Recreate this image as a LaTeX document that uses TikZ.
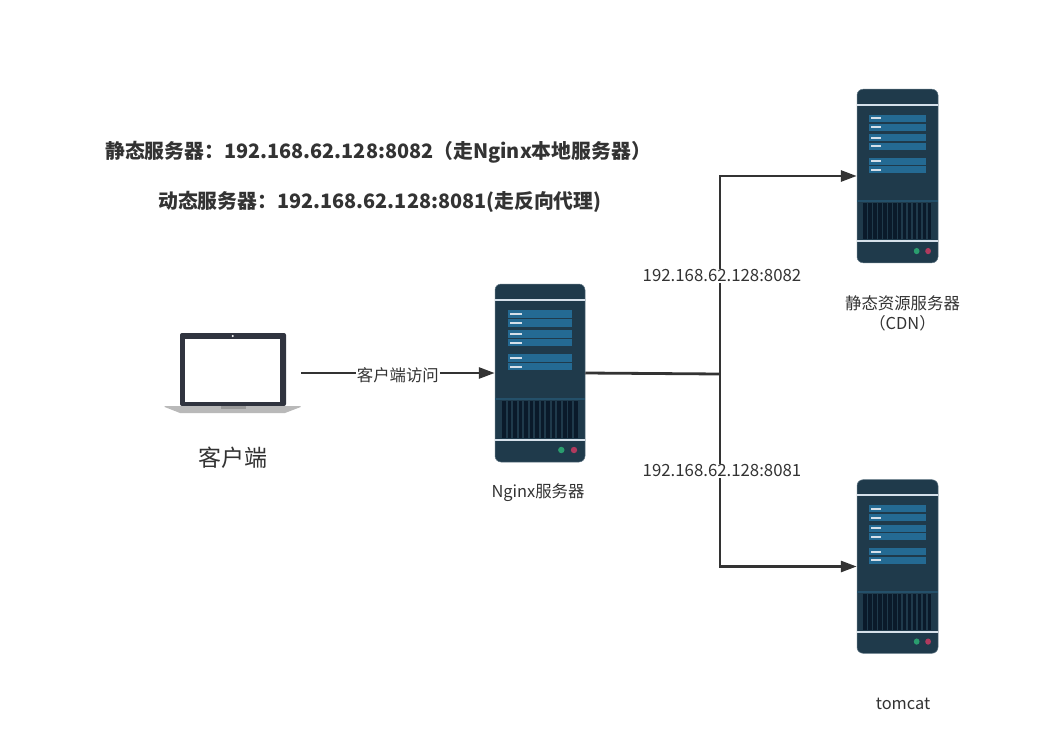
\documentclass[tikz,border=0pt]{standalone}
\usepackage{fontspec}
\setmainfont{Noto Sans CJK SC}
\usetikzlibrary{arrows.meta}
\definecolor{inkgray}{HTML}{333333}
\definecolor{serverbody}{HTML}{1F3A4B}
\definecolor{serveredge}{HTML}{5F7583}
\definecolor{serverbar}{HTML}{246A93}
\definecolor{serverband}{HTML}{24506A}
\definecolor{serverline}{HTML}{D5E0EA}
\definecolor{serverslat}{HTML}{0A1A2A}
\definecolor{lampgreen}{HTML}{2A9D6E}
\definecolor{lampred}{HTML}{B03A5E}
\definecolor{laptopdark}{HTML}{30343F}
\definecolor{laptopbase}{HTML}{B9B9B9}
\definecolor{laptopnotch}{HTML}{999999}
\tikzset{
    link/.style={draw=inkgray, line width=2.8pt},
    arrowlink/.style={link, -{Triangle[length=16pt,width=11pt]}},
    iplabel/.style={fill=white, inner sep=1pt, text=inkgray, font=\fontsize{16.8}{18}\selectfont},
    visitlabel/.style={fill=white, inner sep=1pt, text=inkgray, font=\fontsize{16.4}{18}\selectfont},
    caption/.style={text=inkgray, align=center, font=\fontsize{16.4}{20}\selectfont},
    headline/.style={anchor=west, inner sep=0pt, text=inkgray, font=\fontsize{19.85}{24}\selectfont\bfseries},
    serverbox/.pic={
        \node (-body) [transform shape, fill=serverbody, draw=serveredge, line width=0.5pt, rounded corners=6pt,
            minimum width=90pt, minimum height=178pt, inner sep=0pt] at (0,0) {};
        \fill[serverline] (-45,-74.3) rectangle (45,-72.3);
        \fill[serverline] (-45,66) rectangle (45,68);
        \fill[serverband] (-45,25) rectangle (45,27);
        \foreach \bartop in {-62.7,-53.7,-42.7,-34,-18.7,-10} {
            \fill[serverbar] (-32,\bartop) rectangle (32,\bartop+7.3);
            \fill[serverline] (-30,\bartop+2.6) rectangle (-18,\bartop+4.7);
        }
        \foreach \slat in {0,...,13} {
            \fill[serverslat] (-38+\slat*5.53,28) rectangle (-34.3+\slat*5.53,64.7);
        }
        \fill[lampgreen] (21.3,77) circle (3.2pt);
        \fill[lampred] (34,77) circle (3.2pt);
    }
}
\begin{document}
\begin{tikzpicture}[x=1pt, y=-1pt]
    \useasboundingbox (0,0) rectangle (1058,734);

    \node (intro1) [headline] at (105,152) {静态服务器\char"FF1A 192.168.62.128:8082\char"FF08 走Nginx本地服务器\char"FF09};
    \node (intro2) [headline] at (158,202) {动态服务器\char"FF1A 192.168.62.128:8081(走反向代理)};

    % laptop
    \node (laptop) [fill=laptopdark, rounded corners=2pt, minimum width=106pt, minimum height=73pt, inner sep=0pt] at (233,369.5) {};
    \fill[white] (184.7,339) rectangle (280,401.7);
    \fill[white] (232.7,336) circle (1.1pt);
    \fill[laptopbase] (164.7,406) -- (300.7,406) -- (300.7,407) -- (285,413) -- (180,413) -- (164.7,407) -- cycle;
    \fill[laptopnotch] (220.7,406) rectangle (246,408.5);
    \node (laptoptext) [text=inkgray, font=\fontsize{23}{26}\selectfont] at (233,458) {客户端};

    \pic (nginx) at (540,373) {serverbox};
    \pic (static) [xscale=0.9, yscale=0.975] at (897.5,176) {serverbox};
    \pic (tomcat) [xscale=0.9, yscale=0.975] at (897.5,566.5) {serverbox};

    \node (nginxtext) [caption] at (538,493) {Nginx服务器};
    \node (statictext) [caption] at (902.5,313) {静态资源服务器\\\char"FF08 CDN\char"FF09};
    \node (tomcattext) [caption] at (903,704) {tomcat};

    \coordinate (laptopout) at (301,373);
    \coordinate (fork) at (720,374);
    \draw[arrowlink] (laptopout) -- (nginx-body.west) node[midway, visitlabel, yshift=-2pt] (visit) {客户端访问};
    \draw[link] (nginx-body.east) -- (fork);
    \draw[arrowlink] (fork) |- (static-body.west);
    \draw[arrowlink] (fork) |- (tomcat-body.west);
    \node (ip8082) [iplabel] at (722,276) {192.168.62.128:8082};
    \node (ip8081) [iplabel] at (722,471) {192.168.62.128:8081};
\end{tikzpicture}
\end{document}
